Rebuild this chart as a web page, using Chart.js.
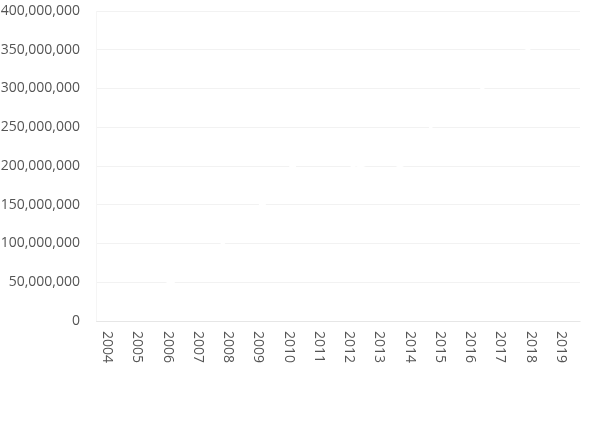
<!DOCTYPE html>
<html>
<head>
<meta charset="utf-8">
<script src="https://cdn.jsdelivr.net/npm/chart.js@4"></script>
<style>
  html, body { margin: 0; padding: 0; background: #fff; }
  #wrap { width: 600px; height: 422px; }
</style>
</head>
<body>
<div id="wrap"><canvas id="grafic"></canvas></div>
<script>
const anys = ['2004', '2005', '2006', '2007', '2008', '2009', '2010', '2011',
              '2012', '2013', '2014', '2015', '2016', '2017', '2018', '2019'];
// valors llegits dels talls a la graella (la línia és blanca)
const valors = [10e6, 25e6, 52e6, 75e6, 111e6, 151e6, 201e6, 215e6,
                203e6, 188e6, 209e6, 281e6, 290e6, 327e6, 357e6, 375e6];
const yMax = 400e6;
const yPas = 50e6;

const FONT = '14px "Open Sans", sans-serif';
const COLOR_TEXT = '#555';
Chart.defaults.font.family = '"Open Sans", sans-serif';
Chart.defaults.font.size = 14;
Chart.defaults.color = COLOR_TEXT;

// etiquetes de l'eix x girades en sentit horari (de dalt a baix)
const etiquetesX = {
    id: 'etiquetesX',
    afterDraw(chart) {
        const sx = chart.scales.x;
        const ctx = chart.ctx;
        ctx.save();
        ctx.font = FONT;
        ctx.fillStyle = COLOR_TEXT;
        ctx.textAlign = 'left';
        ctx.textBaseline = 'middle';
        sx.ticks.forEach((t, i) => {
            ctx.save();
            ctx.translate(sx.getPixelForTick(i) - 4, sx.top + 10);
            ctx.rotate(Math.PI / 2);
            ctx.fillText(anys[i], 0, 0);
            ctx.restore();
        });
        ctx.restore();
    }
};

new Chart(document.getElementById('grafic'), {
    type: 'line',
    data: {
        labels: anys,
        datasets: [{
            label: '',
            data: valors,
            borderColor: '#ffffff',
            backgroundColor: '#ffffff',
            borderWidth: 3,
            pointRadius: 2,
            tension: 0
        }]
    },
    plugins: [etiquetesX],
    options: {
        responsive: true,
        maintainAspectRatio: false,
        animation: false,
        layout: { padding: { top: 0, right: 20, bottom: 59, left: 0 } },
        plugins: {
            legend: { display: false },
            tooltip: { enabled: false }
        },
        scales: {
            x: {
                offset: true,
                grid: { display: false, drawTicks: false },
                border: { color: 'rgba(0,0,0,0.05)' },
                ticks: { display: false },
                afterFit: s => { s.height = 42; s.paddingLeft = 0; s.paddingRight = 0; }
            },
            y: {
                min: 0,
                max: yMax,
                ticks: { stepSize: yPas, padding: 16 },
                grid: { color: 'rgba(0,0,0,0.05)', drawTicks: false },
                border: { color: 'rgba(0,0,0,0.04)' },
                afterFit: s => { s.width = 96; s.paddingTop = 11; s.paddingBottom = 0; }
            }
        }
    }
});
</script>
</body>
</html>
